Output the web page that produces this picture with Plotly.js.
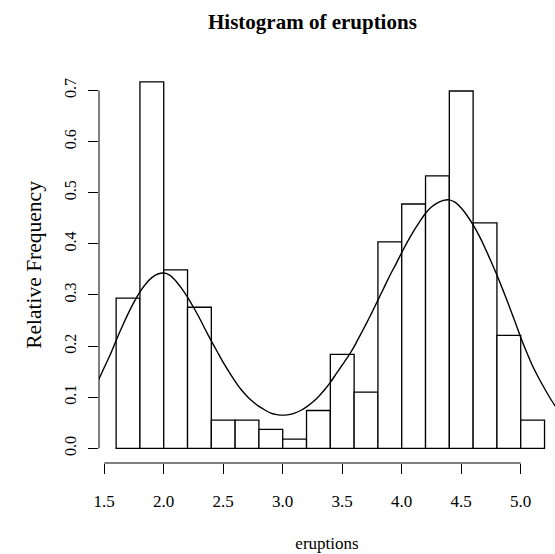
<!DOCTYPE html>
<html>
<head>
<meta charset="utf-8">
<script src="https://cdn.plot.ly/plotly-3.0.1.min.js"></script>
<style>html,body{margin:0;padding:0;background:#fff;overflow:hidden}#chart{width:555px;height:554px}</style>
</head>
<body>
<div id="chart"></div>
<script>
// Histogram bins (eruption duration, minutes)
var binStarts = [1.6, 1.8, 2.0, 2.2, 2.4, 2.6, 2.8, 3.0, 3.2, 3.4, 3.6, 3.8, 4.0, 4.2, 4.4, 4.6, 4.8, 5.0];
var binWidth = 0.2;
// Relative frequency (density) of each bin
var relFreq = [0.294, 0.717, 0.349, 0.276, 0.055, 0.055, 0.037, 0.018, 0.074, 0.184, 0.110, 0.404, 0.478, 0.533, 0.699, 0.441, 0.221, 0.055];

// Density curve
var curveX = [1.44, 1.50, 1.55, 1.60, 1.65, 1.70, 1.75, 1.80, 1.85, 1.90, 1.95, 2.00, 2.05, 2.10, 2.15, 2.20, 2.25, 2.30, 2.35, 2.40, 2.45, 2.50, 2.55, 2.60, 2.65, 2.70, 2.75, 2.80, 2.85, 2.90, 2.95, 3.00, 3.05, 3.10, 3.15, 3.20, 3.25, 3.30, 3.35, 3.40, 3.45, 3.50, 3.55, 3.60, 3.65, 3.70, 3.75, 3.80, 3.85, 3.90, 3.95, 4.00, 4.05, 4.10, 4.15, 4.20, 4.25, 4.30, 4.35, 4.40, 4.45, 4.50, 4.55, 4.60, 4.65, 4.70, 4.75, 4.80, 4.85, 4.90, 4.95, 5.00, 5.05, 5.10, 5.15, 5.20, 5.25, 5.30];
var curveY = [0.128, 0.158, 0.183, 0.211, 0.238, 0.263, 0.286, 0.306, 0.322, 0.334, 0.341, 0.343, 0.339, 0.328, 0.313, 0.296, 0.276, 0.255, 0.232, 0.210, 0.189, 0.168, 0.149, 0.131, 0.115, 0.102, 0.091, 0.082, 0.075, 0.069, 0.066, 0.065, 0.066, 0.069, 0.074, 0.081, 0.090, 0.101, 0.114, 0.129, 0.146, 0.163, 0.180, 0.199, 0.221, 0.243, 0.266, 0.290, 0.314, 0.338, 0.360, 0.383, 0.405, 0.425, 0.443, 0.460, 0.472, 0.480, 0.485, 0.486, 0.481, 0.470, 0.455, 0.437, 0.416, 0.392, 0.366, 0.339, 0.310, 0.280, 0.249, 0.217, 0.188, 0.161, 0.138, 0.117, 0.097, 0.079];

var xTicks = [1.5, 2.0, 2.5, 3.0, 3.5, 4.0, 4.5, 5.0];
var yTicks = [0.0, 0.1, 0.2, 0.3, 0.4, 0.5, 0.6, 0.7];

var mids = binStarts.map(function(s){ return s + binWidth / 2; });
var font = "Liberation Serif, Times New Roman, serif";

var traces = [
  {
    type: 'bar', x: mids, y: relFreq, width: binWidth,
    marker: {color: '#ffffff', line: {color: '#000000', width: 1.3}},
    hoverinfo: 'x+y', showlegend: false
  },
  {
    type: 'scatter', mode: 'lines', x: curveX, y: curveY,
    line: {color: '#000000', width: 1.4, shape: 'spline', smoothing: 0.6},
    showlegend: false
  }
];

var layout = {
  width: 555, height: 554,
  margin: {l: 99, r: 0, t: 67, b: 91, pad: 0},
  paper_bgcolor: '#ffffff', plot_bgcolor: '#ffffff',
  font: {family: font, color: '#000000'},
  title: {
    text: 'Histogram of eruptions',
    font: {family: font, size: 21, weight: 'bold', color: '#000000'},
    x: 0.468, xref: 'paper', xanchor: 'center',
    y: 0.961, yref: 'container', yanchor: 'middle'
  },
  xaxis: {
    range: [1.456, 5.288], autorange: false,
    showgrid: false, zeroline: false, showline: false,
    tickmode: 'array', tickvals: xTicks, tickformat: '.1f',
    ticks: 'outside', ticklen: 10, tickwidth: 1, tickcolor: '#000000',
    ticklabelstandoff: 13,
    tickfont: {family: font, size: 17, color: '#000000'},
    title: {text: 'eruptions', font: {family: font, size: 17, color: '#000000'}, standoff: 26},
    automargin: false
  },
  yaxis: {
    range: [-0.0287, 0.746], autorange: false,
    showgrid: false, zeroline: false, showline: false,
    tickmode: 'array', tickvals: yTicks, tickformat: '.1f', tickangle: -90,
    ticks: 'outside', ticklen: 10, tickwidth: 1, tickcolor: '#000000',
    ticklabelstandoff: 6,
    tickfont: {family: font, size: 16, color: '#000000'},
    title: {text: 'Relative Frequency', font: {family: font, size: 21.5, color: '#000000'}, standoff: 14},
    automargin: false
  },
  shapes: [
    {type: 'line', xref: 'x', yref: 'paper', x0: xTicks[0], x1: xTicks[xTicks.length - 1], y0: 0, y1: 0,
     line: {color: '#000000', width: 1}},
    {type: 'line', xref: 'paper', yref: 'y', x0: 0, x1: 0, y0: yTicks[0], y1: yTicks[yTicks.length - 1],
     line: {color: '#000000', width: 1}}
  ]
};

Plotly.newPlot('chart', traces, layout, {displayModeBar: false, staticPlot: true});
</script>
</body>
</html>
